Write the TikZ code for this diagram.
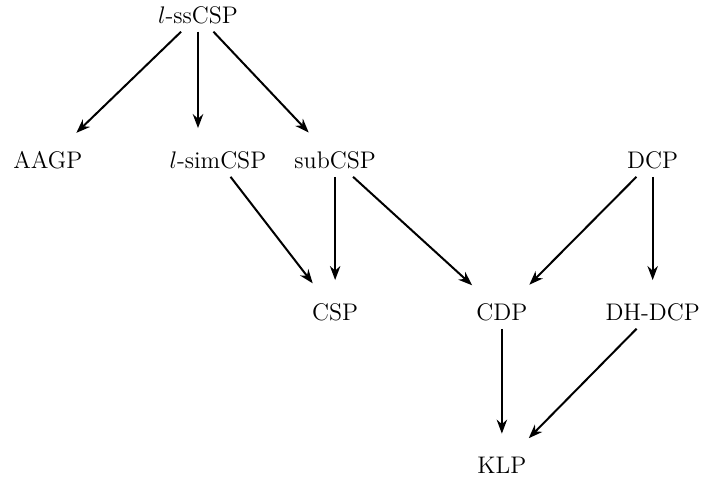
\documentclass[tikz,border=0pt]{standalone}
\usetikzlibrary{positioning,calc,arrows.meta}

\begin{document}
\begin{tikzpicture}[on grid, >={Stealth[length=7pt, width=5.2pt]}, line width=1pt, every node/.style={font=\large}]
	\tikzset{reduce/.style={->, shorten >=8pt}}
	\node (ssCSP) {$l$-ssCSP};
	\node[below right=2.55cm and 0.35cm of ssCSP] (simCSP) {$l$-simCSP};
	\node[left=2.99cm of simCSP] (AAGP) {AAGP};
	\node[right=2.06cm of simCSP] (subCSP) {subCSP};
	
	\node[below=2.67cm of subCSP] (CSP) {CSP};
	\node[below right=2.67cm and 2.93cm of subCSP] (CDP) {CDP};
	\node[right=2.65cm of CDP] (DHDCP) {DH-DCP};
	\node[above=2.67cm of DHDCP] (DCP) {DCP};
	
	\node[below=2.69cm of CDP] (KLP) {KLP};
	
	% straight down from l-ssCSP
	\coordinate (simTop) at (simCSP.north -| ssCSP);
	
	\useasboundingbox ($(ssCSP)+(-99pt,7.5pt)$) rectangle ($(ssCSP)+(262pt,-233.5pt)$);
	
	\draw[reduce] (ssCSP) -- (AAGP);
	\draw[reduce] (ssCSP) -- (simTop);
	\draw[reduce] (ssCSP) -- (subCSP);
	\draw[reduce] (simCSP) -- (CSP);
	\draw[reduce] (subCSP) -- (CSP);
	\draw[reduce] (subCSP) -- (CDP);
	\draw[reduce] (DCP) -- (CDP);
	\draw[reduce] (DCP) -- (DHDCP);
	\draw[reduce] (CDP) -- (KLP);
	\draw[reduce] (DHDCP) -- (KLP);
\end{tikzpicture}
\end{document}
